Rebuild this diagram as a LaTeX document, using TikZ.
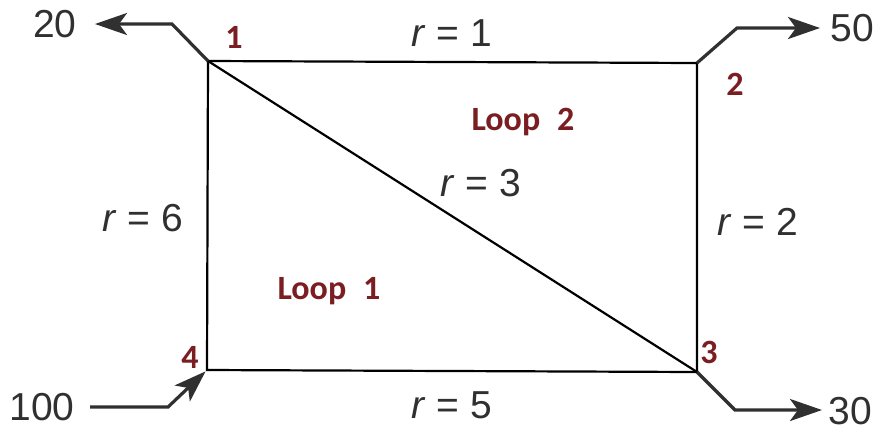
\documentclass[tikz,border=0pt]{standalone}
\usepackage{fontspec}
\setmainfont{Liberation Sans}
\newfontfamily\loopfont{Carlito}
\usetikzlibrary{arrows.meta}
\definecolor{ink}{HTML}{303030}
\definecolor{loopred}{HTML}{7A1E22}
\tikzset{
  wire/.style={draw=black, line width=1.1pt},
  flow/.style={draw=ink, line width=1.6pt, -{Stealth[length=16pt,width=11pt,inset=4pt]}},
  flowin/.style={flow, shorten >=1pt},
  lbl/.style={text=ink, font=\fontsize{19.5}{22}\selectfont, inner sep=1pt},
  num/.style={text=loopred, font=\loopfont\fontsize{17}{19}\selectfont\bfseries, inner sep=1pt},
  looplbl/.style={text=loopred, font=\loopfont\fontsize{17}{19}\selectfont\bfseries, inner sep=1pt}
}
\begin{document}
\begin{tikzpicture}[x=0.5pt,y=-0.5pt]
\useasboundingbox (0,0) rectangle (878,430);
% junctions
\coordinate (n1) at (208,61);
\coordinate (n2) at (697,63);
\coordinate (n3) at (697,372);
\coordinate (n4) at (207,370);
% bends and ends
\coordinate (b1) at (172,24);
\coordinate (e1) at (95,24);
\coordinate (b2) at (737,28);
\coordinate (e2) at (820,28);
\coordinate (s4) at (90,407);
\coordinate (b4) at (168,407);
\coordinate (b3) at (735,410);
\coordinate (e3) at (822,410);
% network
\draw[wire] (n1) -- (n2) -- (n3) -- (n4) -- cycle;
\draw[wire] (n1) -- (n3);
% flows
\draw[flow] (n1) -- (b1) -- (e1);
\draw[flow] (n2) -- (b2) -- (e2);
\draw[flowin] (s4) -- (b4) -- (n4);
\draw[flow] (n3) -- (b3) -- (e3);
% flow labels
\node[lbl] (t20) at (55,24) {20};
\node[lbl] (t50) at (852,28) {50};
\node[lbl] (t100) at (42,407) {100};
\node[lbl] (t30) at (850,411) {30};
% junction numbers
\node[num] (k1) at (234,37) {1};
\node[num] (k2) at (735,84) {2};
\node[num] (k3) at (709,352) {3};
\node[num] (k4) at (190,357) {4};
% resistances
\node[lbl] (r1) at (452,33) {\textit{r} = 1};
\node[lbl] (r3) at (481,183) {\textit{r} = 3};
\node[lbl] (r6) at (143,218) {\textit{r} = 6};
\node[lbl] (r2) at (758,222) {\textit{r} = 2};
\node[lbl] (r5) at (452,405) {\textit{r} = 5};
% loops
\node[looplbl] (L2) at (523,122) {Loop\,\,\,2};
\node[looplbl] (L1) at (329,291) {Loop\,\,\,1};
\end{tikzpicture}
\end{document}
